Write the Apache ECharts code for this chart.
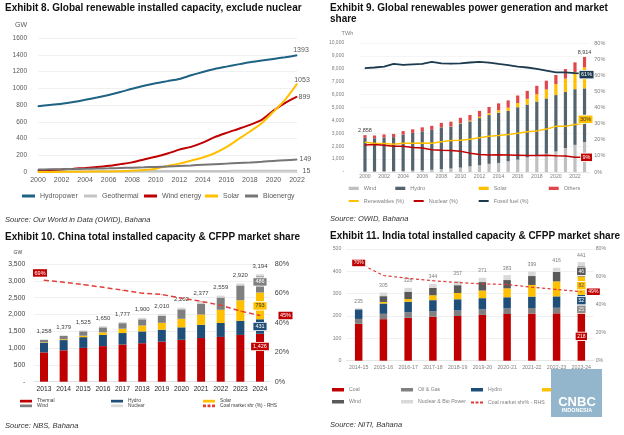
<!DOCTYPE html>
<html><head><meta charset="utf-8">
<script src="https://cdn.jsdelivr.net/npm/echarts@6.0.0/dist/echarts.min.js"></script>
<style>
html,body{margin:0;padding:0;background:#fff;width:624px;height:435px;overflow:hidden}
.c{position:absolute;left:0;top:0;width:624px;height:435px}
</style></head><body>
<div id="c8" class="c"></div><div id="c9" class="c"></div><div id="c10" class="c"></div><div id="c11" class="c"></div>
<script>
const FONT = "'Liberation Sans', Arial, Helvetica, sans-serif";

// ---------- Exhibit 8 data (GW) ----------
const years8 = ['2000','2001','2002','2003','2004','2005','2006','2007','2008','2009','2010','2011','2012','2013','2014','2015','2016','2017','2018','2019','2020','2021','2022'];
const hydro8 = [784, 800, 814, 835, 862, 890, 920, 955, 995, 1030, 1060, 1085, 1110, 1155, 1195, 1230, 1258, 1285, 1310, 1330, 1350, 1370, 1393];
const geo8 = [8, 8, 9, 9, 9, 9, 10, 10, 10, 11, 11, 11, 11, 12, 12, 13, 13, 14, 14, 14, 14, 15, 15];
const wind8 = [17, 24, 31, 39, 48, 59, 74, 94, 115, 150, 181, 220, 267, 300, 350, 416, 467, 514, 563, 623, 733, 825, 899];
const solar8 = [1, 1, 2, 3, 4, 5, 6, 8, 15, 23, 40, 72, 100, 136, 174, 224, 296, 390, 484, 583, 721, 865, 1053];
const bio8 = [30, 32, 34, 36, 38, 41, 44, 48, 52, 56, 61, 67, 73, 79, 86, 93, 100, 107, 114, 122, 132, 141, 149];

// ---------- Exhibit 9 data (TWh, %) ----------
const years9 = ['2000','2001','2002','2003','2004','2005','2006','2007','2008','2009','2010','2011','2012','2013','2014','2015','2016','2017','2018','2019','2020','2021','2022','2023'];
const wind9 = [31, 38, 52, 63, 85, 104, 133, 170, 220, 276, 342, 437, 524, 635, 706, 831, 956, 1135, 1265, 1420, 1592, 1848, 2105, 2325];
const hydro9 = [2613, 2576, 2626, 2640, 2817, 2922, 3026, 3087, 3243, 3244, 3426, 3490, 3657, 3781, 3893, 3904, 4065, 4091, 4194, 4283, 4372, 4352, 4315, 4159];
const solar9 = [1, 1, 2, 2, 3, 4, 6, 8, 12, 20, 32, 63, 99, 134, 191, 255, 329, 444, 571, 697, 846, 1040, 1310, 1630];
const others9 = [213, 215, 230, 245, 265, 280, 295, 315, 335, 360, 400, 430, 460, 490, 530, 560, 580, 620, 650, 680, 710, 740, 770, 800];
const totals9 = [2858, 2830, 2910, 2950, 3170, 3310, 3460, 3580, 3810, 3900, 4200, 4420, 4740, 5040, 5320, 5550, 5930, 6290, 6680, 7080, 7520, 7980, 8500, 8914];
const renew9 = [18.5, 17.8, 17.6, 17.2, 17.8, 17.8, 18.0, 17.8, 18.7, 19.6, 19.7, 20.3, 21.2, 22.1, 22.6, 23.2, 24.0, 24.9, 25.5, 26.6, 28.3, 28.3, 29.4, 30.2];
const nuclear9 = [16.8, 17.0, 16.6, 15.9, 15.9, 15.2, 14.9, 13.8, 13.5, 13.4, 12.9, 11.7, 10.8, 10.6, 10.7, 10.6, 10.4, 10.2, 10.2, 10.4, 10.1, 9.9, 9.2, 9.1];
const fossil9 = [64.4, 64.8, 65.4, 67.0, 66.4, 66.7, 67.0, 68.3, 67.4, 67.2, 67.4, 67.9, 68.3, 67.8, 67.0, 66.3, 65.4, 64.8, 63.9, 62.8, 61.8, 61.8, 61.3, 61.0];

// ---------- Exhibit 10 data (GW, %) ----------
const years10 = ['2013','2014','2015','2016','2017','2018','2019','2020','2021','2022','2023','2024'];
const thermal10 = [871, 933, 1005, 1058, 1106, 1144, 1191, 1247, 1298, 1331, 1391, 1426];
const hydro10 = [280, 305, 320, 332, 341, 352, 356, 370, 391, 414, 422, 431];
const solar10 = [16, 25, 42, 77, 130, 175, 204, 253, 307, 393, 609, 793];
const wind10 = [76, 96, 131, 149, 164, 184, 210, 282, 328, 365, 441, 486];
const nuclear10 = [15, 20, 27, 34, 36, 45, 49, 50, 53, 56, 57, 58];
const total10 = [1258, 1379, 1525, 1650, 1777, 1900, 2010, 2202, 2377, 2559, 2920, 3194];
const coal10 = [69, 67.6, 66, 64.2, 62.2, 60.2, 59.3, 56.8, 54.6, 52, 48, 45];

// ---------- Exhibit 11 data (GW, %) ----------
const years11 = ['2014-15','2015-16','2016-17','2017-18','2018-19','2019-20','2020-21','2021-22','2022-23','2023-24'];
const coal11 = [165, 186, 192, 197, 200, 205, 209, 211, 212, 218];
const oilgas11 = [22, 24, 25, 25, 25, 25, 25, 25, 25, 25];
const hydro11 = [43, 46, 47, 49, 50, 50, 50, 51, 51, 52];
const solar11 = [0, 7, 12, 22, 28, 34, 40, 52, 67, 82];
const wind11 = [0, 26, 33, 33, 35, 38, 37, 40, 42, 46];
const nucbio11 = [5, 16, 17, 18, 19, 19, 22, 20, 19, 18];
const total11 = [235, 305, 326, 344, 357, 371, 383, 399, 416, 441];
const coalShare11 = [70, 61, 59, 57.3, 56, 55, 54.6, 52.6, 51, 49.4];

// ---------- helpers ----------
function labelAt(arr, map) {
  return arr.map((v, i) => map[i] ? { value: v, label: Object.assign({ show: true }, map[i]) } : v);
}
function legendItem(name, textLeft, cy, o) {
  return {
    data: [name], left: textLeft - 5 - o.w, top: cy - o.ih / 2, padding: 0, itemGap: 0,
    itemWidth: o.w, itemHeight: o.ih, icon: o.icon || 'rect', symbolKeepAspect: false,
    selectedMode: false,
    textStyle: { fontFamily: FONT, fontSize: o.fs, color: o.color }
  };
}
function box(bg, fg, extra) {
  return Object.assign({ position: 'inside', backgroundColor: bg, color: fg, borderColor: '#fff', borderWidth: 0.8,
    padding: [1, 1.5, 0.5, 1.5], fontSize: 5.5, fontFamily: FONT,
    formatter: p => Math.round(p.value) + (p.seriesType === 'line' ? '%' : '') }, extra || {});
}
function titleT(text, left, top, size, extra) {
  return { text: text, left: left, top: top, padding: 0,
    textStyle: Object.assign({ fontFamily: FONT, fontSize: size, fontWeight: 'bold', color: '#111' }, extra || {}) };
}
function sourceT(text, left, top) {
  return titleT(text, left, top, 7.5, { fontWeight: 'normal', fontStyle: 'italic', color: '#333' });
}
const fmtK = v => v === 0 ? '-' : v.toLocaleString('en-US');
const DASH = 'path://M0,0H4V2H0ZM6,0H10V2H6ZM12,0H16V2H12Z';

// ================= Exhibit 8 =================
(function () {
  const ch = echarts.init(document.getElementById('c8'));
  const endLab = (pos, dist, off) => ({ position: pos, distance: dist, offset: off || [0, 0], fontSize: 7, color: '#595959', fontFamily: FONT, formatter: '{c}' });
  const line = (name, data, color, label) => ({
    name, type: 'line', data: labelAt(data, { [data.length - 1]: label }), smooth: 0.25,
    symbol: 'circle', symbolSize: 1, showSymbol: true, showAllSymbol: true,
    lineStyle: { width: 2, color }, itemStyle: { color }, emphasis: { disabled: true }
  });
  const o = { w: 13, ih: 3, fs: 7, color: '#595959' };
  ch.setOption({
    animation: false,
    textStyle: { fontFamily: FONT },
    title: [titleT('Exhibit 8. Global renewable installed capacity, exclude nuclear', 5, 3, 10),
            sourceT('Source: Our World in Data (OWID), Bahana', 5, 215.8)],
    grid: { left: 38, top: 38, width: 259, height: 134, outerBoundsMode: 'none' },
    legend: [legendItem('Hydropower', 40, 194, o), legendItem('Geothermal', 102, 194, o),
             legendItem('Wind energy', 162, 194, o), legendItem('Solar', 223, 194, o),
             legendItem('Bioenergy', 263, 194, o)],
    xAxis: { type: 'category', data: years8, boundaryGap: false,
      axisLine: { lineStyle: { color: '#d9d9d9' } }, axisTick: { show: false },
      axisLabel: { interval: 1, fontSize: 7, color: '#595959', margin: 5 } },
    yAxis: { type: 'value', min: 0, max: 1600, interval: 200, name: 'GW', nameLocation: 'end', nameGap: 9,
      nameTextStyle: { fontSize: 7, color: '#595959', align: 'right', padding: [0, 11, 0, 0] },
      axisLine: { show: false }, axisTick: { show: false },
      splitLine: { lineStyle: { color: '#f0f0f0' } },
      axisLabel: { fontSize: 6.5, color: '#595959', margin: 11, formatter: v => String(v) } },
    series: [
      line('Hydropower', hydro8, '#1e6384', endLab('top', 1, [4, 0])),
      line('Geothermal', geo8, '#c4c4c4', endLab('right', 5)),
      line('Wind energy', wind8, '#c00000', endLab('right', 1)),
      line('Solar', solar8, '#ffc000', endLab('top', 0, [5, 0])),
      line('Bioenergy', bio8, '#767676', endLab('right', 2))
    ]
  });
})();

// ================= Exhibit 9 =================
(function () {
  const ch = echarts.init(document.getElementById('c9'));
  const totLab = { position: 'top', distance: 2, fontSize: 5.5, color: '#404040', fontFamily: FONT,
    formatter: p => totals9[p.dataIndex].toLocaleString('en-US') };
  const bar = (name, data, color) => ({ name, type: 'bar', stack: 'g', data, barWidth: 3.2,
    itemStyle: { color }, emphasis: { disabled: true } });
  const line = (name, data, color, width, label) => ({
    name, type: 'line', yAxisIndex: 1, data: labelAt(data, { [data.length - 1]: label }),
    symbol: 'circle', symbolSize: 1, showSymbol: true, showAllSymbol: true,
    lineStyle: { width, color }, itemStyle: { color }, emphasis: { disabled: true }, z: 5
  });
  const ob = { w: 10, ih: 3.3, fs: 5.5, color: '#7f7f7f' };
  const ol = { w: 10, ih: 2, fs: 5.5, color: '#7f7f7f' };
  ch.setOption({
    animation: false,
    textStyle: { fontFamily: FONT },
    title: [titleT('Exhibit 9. Global renewables power generation and market\nshare', 330, 3, 10, { lineHeight: 11 }),
            sourceT('Source: OWID, Bahana', 330, 215.3)],
    grid: { left: 360.2, top: 43, width: 229.1, height: 129, outerBoundsMode: 'none' },
    legend: [legendItem('Wind', 363.7, 187, ob), legendItem('Hydro', 410.3, 187, ob),
             legendItem('Solar', 493.7, 187, ob), legendItem('Others', 563.7, 187, ob),
             legendItem('Renewables (%)', 363.7, 199, ol), legendItem('Nuclear (%)', 428.7, 199, ol),
             legendItem('Fossil fuel (%)', 493.7, 199, ol)],
    xAxis: { type: 'category', data: years9,
      axisLine: { lineStyle: { color: '#e6e6e6' } }, axisTick: { show: false },
      axisLabel: { interval: 1, fontSize: 5.2, color: '#7f7f7f', margin: 2 } },
    yAxis: [
      { type: 'value', min: 0, max: 10000, interval: 1000, name: 'TWh', nameLocation: 'end', nameGap: 7,
        nameTextStyle: { fontSize: 5.5, color: '#7f7f7f', align: 'right', padding: [0, 7, 0, 0] },
        axisLine: { show: false }, axisTick: { show: false },
        splitLine: { lineStyle: { color: '#f5f5f5' } },
        axisLabel: { fontSize: 5, color: '#7f7f7f', margin: 16, formatter: fmtK } },
      { type: 'value', min: 0, max: 80, interval: 10, position: 'right',
        axisLine: { show: false }, axisTick: { show: false }, splitLine: { show: false },
        axisLabel: { fontSize: 5.5, color: '#7f7f7f', margin: 5, formatter: '{value}%' } }
    ],
    series: [
      bar('Wind', wind9, '#c0c0c0'),
      bar('Hydro', hydro9, '#53646f'),
      bar('Solar', solar9, '#ffc000'),
      bar('Others', labelAt(others9, { 0: totLab, 23: totLab }), '#e0474c'),
      line('Renewables (%)', renew9, '#ffc000', 1.5, box('#ffc000', '#333', { offset: [1, -4] })),
      line('Nuclear (%)', nuclear9, '#c00000', 1.5, box('#c00000', '#fff', { offset: [2, 0] })),
      line('Fossil fuel (%)', fossil9, '#1d3b50', 1.8, box('#1d3b50', '#fff', { offset: [2, 1] }))
    ]
  });
})();

// ================= Exhibit 10 =================
(function () {
  const ch = echarts.init(document.getElementById('c10'));
  const L = 11;
  const bar = (name, data, color, label) => ({ name, type: 'bar', stack: 'c', barWidth: 8,
    data: label ? labelAt(data, { [L]: label }) : data, itemStyle: { color }, emphasis: { disabled: true } });
  const totLab = { show: true, position: 'top', distance: 5, fontSize: 6, color: '#404040', fontFamily: FONT,
    formatter: p => total10[p.dataIndex].toLocaleString('en-US') };
  const ob = { w: 12, ih: 2.7, fs: 4.8, color: '#404040' };
  const bl = (bg, fg, extra) => box(bg, fg, Object.assign({ formatter: p => p.value.toLocaleString('en-US'), padding: [1, 2, 0.5, 2] }, extra || {}));
  ch.setOption({
    animation: false,
    textStyle: { fontFamily: FONT },
    title: [titleT('Exhibit 10. China total installed capacity & CFPP market share', 5, 232, 10),
            sourceT('Source: NBS, Bahana', 5, 421.8)],
    grid: { left: 34.2, top: 264, width: 235.6, height: 117.7, outerBoundsMode: 'none' },
    legend: [legendItem('Thermal', 37, 400, ob), legendItem('Hydro', 128, 400, ob), legendItem('Solar', 220, 400, ob),
             legendItem('Wind', 37, 404.7, ob), legendItem('Nuclear', 128, 404.7, ob),
             legendItem('Coal market shr (%) - RHS', 220, 404.7, Object.assign({}, ob, { icon: DASH }))],
    xAxis: { type: 'category', data: years10,
      axisLine: { lineStyle: { color: '#e0e0e0' } }, axisTick: { show: false },
      axisLabel: { interval: 0, fontSize: 6.7, color: '#262626', margin: 4 } },
    yAxis: [
      { type: 'value', min: 0, max: 3500, interval: 500, name: 'GW', nameLocation: 'end', nameGap: 9,
        nameTextStyle: { fontSize: 5, color: '#404040', align: 'right', padding: [0, 12, 0, 0] },
        axisLine: { show: false }, axisTick: { show: false },
        splitLine: { lineStyle: { color: '#f0f0f0' } },
        axisLabel: { fontSize: 6.8, color: '#404040', margin: 9, formatter: fmtK } },
      { type: 'value', min: 0, max: 80, interval: 20, position: 'right',
        axisLine: { show: false }, axisTick: { show: false }, splitLine: { show: false },
        axisLabel: { fontSize: 7.2, color: '#404040', margin: 5, formatter: '{value}%' } }
    ],
    series: [
      bar('Thermal', thermal10, '#c00000', bl('#c00000', '#fff', { position: 'insideTop', distance: 9 })),
      bar('Hydro', hydro10, '#1f4e79', bl('#1f4e79', '#fff')),
      bar('Solar', solar10, '#ffc000', bl('#ffc000', '#333')),
      bar('Wind', wind10, '#7f7f7f', bl('#7f7f7f', '#fff', { offset: [0, -2.5] })),
      Object.assign(bar('Nuclear', nuclear10, '#d9d9d9'), { label: totLab }),
      { name: 'Coal market shr (%) - RHS', type: 'line', yAxisIndex: 1,
        data: labelAt(coal10, { 0: box('#c00000', '#fff', { position: 'top', distance: 3, offset: [-4, 0] }),
                                11: box('#c00000', '#fff', { position: 'right', distance: 18 }) }),
        symbol: 'circle', symbolSize: 1, showSymbol: true, showAllSymbol: true,
        lineStyle: { width: 1.5, color: '#e0403a', type: [5, 3] }, itemStyle: { color: '#e0403a' },
        emphasis: { disabled: true }, z: 5 }
    ]
  });
})();

// ================= Exhibit 11 =================
(function () {
  const ch = echarts.init(document.getElementById('c11'));
  const L = 9;
  const bl = (bg, fg) => box(bg, fg, { fontSize: 5, padding: [1.5, 1.5, 1, 1.5] });
  const bar = (name, data, color, label) => ({ name, type: 'bar', stack: 'i', barWidth: 7.5,
    data: label ? labelAt(data, { [L]: label }) : data, itemStyle: { color }, emphasis: { disabled: true } });
  const totLab = { show: true, position: 'top', distance: 4.5, fontSize: 5.2, color: '#7f7f7f', fontFamily: FONT,
    formatter: p => String(total11[p.dataIndex]) };
  const ob = { w: 12, ih: 3.5, fs: 5.2, color: '#7f7f7f' };
  ch.setOption({
    animation: false,
    textStyle: { fontFamily: FONT },
    title: [titleT('Exhibit 11. India total installed capacity & CFPP market share', 330, 231.5, 10),
            sourceT('Source: NITI, Bahana', 330, 421.3)],
    grid: { left: 346.3, top: 249, width: 247.4, height: 111.7, outerBoundsMode: 'none' },
    legend: [legendItem('Coal', 349, 389, ob), legendItem('Oil & Gas', 418, 389, ob),
             legendItem('Hydro', 488, 389, ob), legendItem('Solar', 559, 389, ob),
             legendItem('Wind', 349, 401, ob), legendItem('Nuclear & Bio Power', 418, 401, ob),
             legendItem('Coal market shr% - RHS', 488, 401, Object.assign({}, ob, { icon: DASH, ih: 2 }))],
    xAxis: { type: 'category', data: years11,
      axisLine: { lineStyle: { color: '#e6e6e6' } }, axisTick: { show: false },
      axisLabel: { interval: 0, fontSize: 5.3, color: '#808080', margin: 4.6 } },
    yAxis: [
      { type: 'value', min: 0, max: 500, interval: 100,
        axisLine: { show: false }, axisTick: { show: false },
        splitLine: { lineStyle: { color: '#f0f0f0' } },
        axisLabel: { fontSize: 5.2, color: '#808080', margin: 5 } },
      { type: 'value', min: 0, max: 80, interval: 20, position: 'right',
        axisLine: { show: false }, axisTick: { show: false }, splitLine: { show: false },
        axisLabel: { fontSize: 5.2, color: '#808080', margin: 2, formatter: '{value}%' } }
    ],
    series: [
      bar('Coal', coal11, '#c00000', bl('#c00000', '#fff')),
      bar('Oil & Gas', oilgas11, '#808080', bl('#8c8c8c', '#eee')),
      bar('Hydro', hydro11, '#1f4e79', bl('#1f4e79', '#fff')),
      bar('Solar', solar11, '#ffc000', bl('#ffc000', '#595959')),
      bar('Wind', wind11, '#595959', bl('#595959', '#fff')),
      Object.assign(bar('Nuclear & Bio Power', nucbio11, '#d9d9d9'), { label: totLab }),
      { name: 'Coal market shr% - RHS', type: 'line', yAxisIndex: 1,
        data: labelAt(coalShare11, { 0: box('#c00000', '#fff', { fontSize: 5 }),
                                     9: box('#c00000', '#fff', { fontSize: 5, position: 'right', distance: 5 }) }),
        symbol: 'circle', symbolSize: 1, showSymbol: true, showAllSymbol: true,
        lineStyle: { width: 1.2, color: '#e03a3a', type: [3, 2.5] }, itemStyle: { color: '#e03a3a' },
        emphasis: { disabled: true }, z: 5 }
    ],
    graphic: [
      { type: 'rect', z: 100, shape: { x: 551, y: 369, width: 51, height: 48 }, style: { fill: '#93b6cc' } },
      { type: 'group', z: 101, x: 580.5, y: 397, children: [
        { type: 'ellipse', rotation: 1.1, shape: { cx: 0, cy: -10, rx: 3.3, ry: 9 }, style: { fill: '#f6d675' } },
        { type: 'ellipse', rotation: 0.66, shape: { cx: 0, cy: -10, rx: 3.3, ry: 9 }, style: { fill: '#f4a872' } },
        { type: 'ellipse', rotation: 0.22, shape: { cx: 0, cy: -10, rx: 3.3, ry: 9 }, style: { fill: '#e77b96' } },
        { type: 'ellipse', rotation: -0.22, shape: { cx: 0, cy: -10, rx: 3.3, ry: 9 }, style: { fill: '#9f94cc' } },
        { type: 'ellipse', rotation: -0.66, shape: { cx: 0, cy: -10, rx: 3.3, ry: 9 }, style: { fill: '#72b3e0' } },
        { type: 'ellipse', rotation: -1.1, shape: { cx: 0, cy: -10, rx: 3.3, ry: 9 }, style: { fill: '#80cc95' } },
        { type: 'ellipse', shape: { cx: 0, cy: -4, rx: 2, ry: 4.5 }, style: { fill: '#ffffff' } }
      ] },
      { type: 'text', z: 102, x: 577, y: 402.5, style: { text: 'CNBC', fill: '#fff', font: "bold 13px 'Liberation Sans', Arial, sans-serif", align: 'center', verticalAlign: 'middle' } },
      { type: 'text', z: 102, x: 577, y: 410, style: { text: 'INDONESIA', fill: '#fff', font: "bold 5.5px 'Liberation Sans', Arial, sans-serif", align: 'center', verticalAlign: 'middle' } }
    ]
  });
})();
</script>
</body></html>
